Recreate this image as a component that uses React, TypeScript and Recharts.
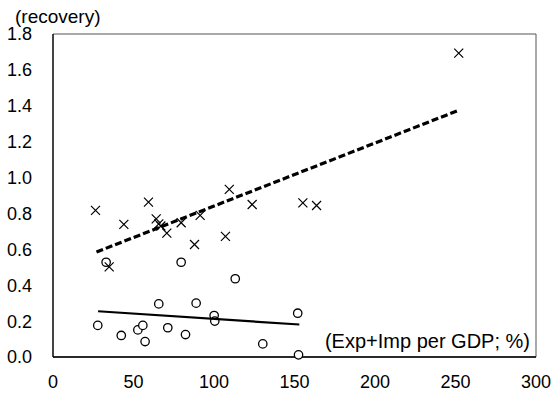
import { ScatterChart, Scatter, XAxis, YAxis, ReferenceArea } from 'recharts';

// crosses (upper group)
const crossX = [26.4, 34.9, 44, 59.3, 64.1, 65.7, 67, 70.7, 79.6, 87.9, 91.4, 107.1, 109.5, 123.7, 155.2, 163.7, 252];
const crossY = [0.817, 0.502, 0.739, 0.863, 0.77, 0.742, 0.73, 0.69, 0.748, 0.627, 0.789, 0.672, 0.934, 0.85, 0.859, 0.844, 1.693];

// circles (lower group)
const circleX = [27.8, 33, 42.4, 52.7, 55.8, 57.2, 65.7, 71.3, 79.6, 82.3, 88.9, 100.1, 100.5, 113.2, 130.3, 152, 152.5];
const circleY = [0.176, 0.528, 0.12, 0.151, 0.176, 0.086, 0.296, 0.163, 0.528, 0.125, 0.3, 0.231, 0.2, 0.436, 0.073, 0.244, 0.012];

// trend line end points
const crossTrendX = [27, 252];
const crossTrendY = [0.585, 1.375];
const circleTrendX = [28, 153];
const circleTrendY = [0.255, 0.181];

const xTicks = [0, 50, 100, 150, 200, 250, 300];
const yTicks = [0, 0.2, 0.4, 0.6, 0.8, 1.0, 1.2, 1.4, 1.6, 1.8];

const toPoints = (xs: number[], ys: number[]) => xs.map((x, i) => ({ x, y: ys[i] }));

const crosses = toPoints(crossX, crossY);
const circles = toPoints(circleX, circleY);
const crossTrend = toPoints(crossTrendX, crossTrendY);
const circleTrend = toPoints(circleTrendX, circleTrendY);

const FONT = '"Liberation Sans", Arial, sans-serif';

const Cross = (props: any) => {
  const { cx, cy } = props;
  const s = 4.5;
  return (
    <path
      d={`M${cx - s},${cy - s}L${cx + s},${cy + s}M${cx - s},${cy + s}L${cx + s},${cy - s}`}
      stroke="#000"
      strokeWidth={1.2}
      fill="none"
    />
  );
};

const Ring = (props: any) => {
  const { cx, cy } = props;
  return <circle cx={cx} cy={cy} r={4.2} stroke="#000" strokeWidth={1.3} fill="#fff" />;
};

const Nothing = () => <g />;

export default function App() {
  return (
    <div style={{ position: 'absolute', left: 0, top: 0, width: 556, height: 394, background: '#fff' }}>
      <ScatterChart width={556} height={394} margin={{ top: 34, right: 20, bottom: 0, left: 0 }}>
        <ReferenceArea x1={0} x2={300} y1={0} y2={1.8} fill="none" stroke="#555" strokeWidth={1} />
        <XAxis
          type="number"
          dataKey="x"
          domain={[0, 300]}
          ticks={xTicks}
          height={37}
          tickLine={false}
          tickSize={0}
          tickMargin={18}
          axisLine={{ stroke: '#000', strokeWidth: 1.5 }}
          tick={{ fill: '#000', fontSize: 18, fontFamily: FONT }}
          label={{
            content: () => (
              <text x={530} y={348} textAnchor="end" fontSize={20} fontFamily={FONT} fill="#000">
                (Exp+Imp per GDP; %)
              </text>
            ),
          }}
        />
        <YAxis
          type="number"
          dataKey="y"
          domain={[0, 1.8]}
          ticks={yTicks}
          width={53}
          tickLine={false}
          tickSize={0}
          tickMargin={21}
          axisLine={{ stroke: '#000', strokeWidth: 1.2 }}
          tickFormatter={(v: number) => v.toFixed(1)}
          tick={{ fill: '#000', fontSize: 18, fontFamily: FONT }}
          label={{
            content: () => (
              <text x={15} y={23} fontSize={19} fontFamily={FONT} fill="#000">
                (recovery)
              </text>
            ),
          }}
        />
        <Scatter data={circles} shape={Ring} isAnimationActive={false} />
        <Scatter data={crosses} shape={Cross} isAnimationActive={false} />
        <Scatter
          data={crossTrend}
          shape={Nothing}
          line={{ stroke: '#000', strokeWidth: 3.2, strokeDasharray: '7 3' }}
          isAnimationActive={false}
        />
        <Scatter
          data={circleTrend}
          shape={Nothing}
          line={{ stroke: '#000', strokeWidth: 2.2 }}
          isAnimationActive={false}
        />
      </ScatterChart>
    </div>
  );
}
